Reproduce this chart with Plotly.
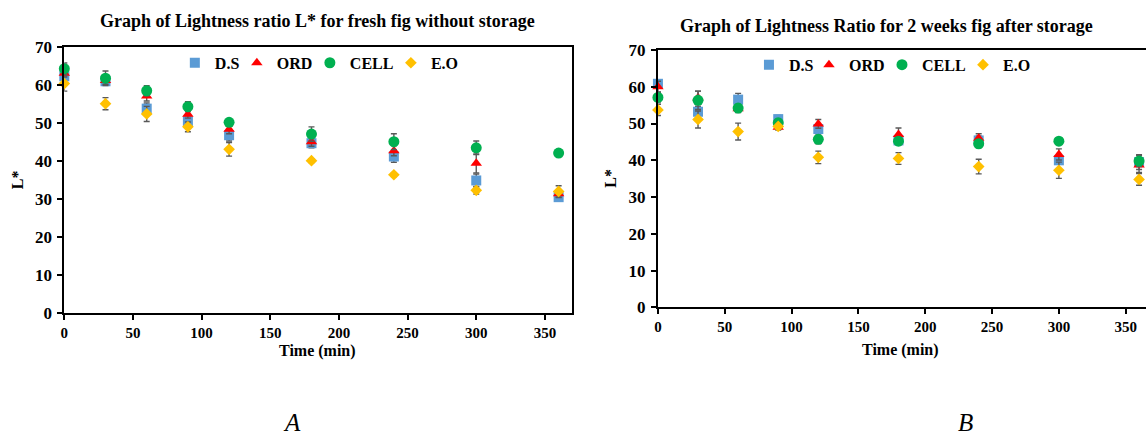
import plotly.graph_objects as go

W, H = 1146, 436

time = [0, 30, 60, 90, 120, 180, 240, 300, 360]
ticks_x = [0, 50, 100, 150, 200, 250, 300, 350]
ticks_y = [0, 10, 20, 30, 40, 50, 60, 70]

# Panel A: fresh fig without storage
a_ds = [62.2, 60.9, 53.7, 50.4, 46.7, 44.6, 41.1, 34.8, 30.4]
a_ord = [63.0, 61.1, 57.0, 52.2, 48.3, 45.0, 42.6, 39.3, 31.3]
a_cell = [64.2, 61.7, 58.4, 54.2, 50.1, 47.0, 45.0, 43.4, 42.0]
a_eo = [60.3, 55.0, 52.3, 48.9, 43.0, 40.0, 36.3, 32.2, 31.9]
a_ds_err = [1.0, 0.8, 1.5, 1.2, 1.5, 1.2, 1.5, 1.7, 0.6]
a_ord_err = [1.0, 1.0, 1.3, 1.0, 1.2, 1.2, 1.3, 2.5, 1.0]
a_cell_err = [1.5, 1.9, 1.3, 1.3, 0.6, 1.9, 2.1, 1.8, 0.5]
a_eo_err = [2.0, 1.6, 2.0, 1.3, 1.8, 0.5, 0.5, 1.0, 1.5]

# Panel B: 2 weeks fig after storage
b_ds = [60.8, 53.2, 56.5, 51.2, 48.5, 45.4, 45.4, 40.0, 39.5]
b_ord = [60.0, 57.0, 54.0, 49.0, 49.9, 47.0, 46.0, 41.6, 38.7]
b_cell = [57.1, 56.3, 54.2, 50.2, 45.7, 45.2, 44.5, 45.2, 39.8]
b_eo = [53.7, 51.1, 47.8, 49.2, 40.8, 40.5, 38.3, 37.3, 34.8]
b_ds_err = [1.0, 1.5, 1.7, 1.0, 1.0, 1.0, 1.2, 1.0, 2.0]
b_ord_err = [1.5, 1.8, 1.0, 0.8, 1.2, 1.8, 1.2, 1.5, 2.0]
b_cell_err = [1.5, 2.5, 1.0, 1.0, 1.2, 1.0, 1.0, 0.5, 1.5]
b_eo_err = [1.5, 2.3, 2.3, 0.8, 1.7, 1.6, 2.0, 2.2, 1.6]

series_names = ["D.S", "ORD", "CELL", "E.O"]
colors = ["#5B9BD5", "#FF0000", "#00B050", "#FFC000"]
symbols = ["square", "triangle-up", "circle", "diamond"]
sizes = [10, 10, 11, 9]

FONT = "Liberation Serif"

# page-to-figure pixel mapping (compensates the capture's offset/scale)
def fx(p):
    return (p - 4.2) / 0.9963

def fy(p):
    return (p - 7.7) / 0.9646

def px_x(p):
    return fx(p) / W

def px_y(p):
    return 1 - fy(p) / H

fig = go.Figure()

# legend anchor pixel positions (left edge of each single-item legend)
leg_a_x = [175, 237, 310, 391]
leg_b_x = [749, 809, 882, 963]

panels = [
    ("x", "y", 1, leg_a_x, 62, [a_ds, a_ord, a_cell, a_eo], [a_ds_err, a_ord_err, a_cell_err, a_eo_err]),
    ("x2", "y2", 5, leg_b_x, 64, [b_ds, b_ord, b_cell, b_eo], [b_ds_err, b_ord_err, b_cell_err, b_eo_err]),
]
legends = {}
for xa, ya, lg0, lxs, ly, vals, errs in panels:
    for i, (name, c, s, sz, v, e) in enumerate(zip(series_names, colors, symbols, sizes, vals, errs)):
        lname = "legend" if lg0 + i == 1 else "legend%d" % (lg0 + i)
        fig.add_trace(go.Scatter(
            x=time, y=v, mode="markers", name="<b>" + name + "</b>",
            xaxis=xa, yaxis=ya, legend=lname, cliponaxis=False,
            marker=dict(color=c, symbol=s, size=sz, line=dict(width=0)),
            error_y=dict(type="data", array=e, visible=True, color="#595959",
                         thickness=1.4, width=3),
        ))
        legends[lname] = dict(orientation="h", x=px_x(lxs[i]), y=px_y(ly),
                              xanchor="left", yanchor="middle", bgcolor="rgba(0,0,0,0)",
                              borderwidth=0,
                              font=dict(family=FONT, size=16, color="black"))

axis_common = dict(showgrid=False, zeroline=False, showline=True, linecolor="black",
                   linewidth=2, ticks="outside", ticklen=5, tickwidth=1.5,
                   tickcolor="black")
xtickfont = dict(family=FONT, size=15, color="black")
ytickfont = dict(family=FONT, size=17, color="black")
tx_text = ["<b>%d</b>" % t for t in ticks_x]
ty_text = ["<b>%d</b>" % t for t in ticks_y]

a_x0, a_x1, a_yb, a_yt = 64.5, 572, 314, 45.7
b_x0, b_yb, b_yt = 658, 308.7, 49
scale_a = (545.0 - 64.5) / 350.0
scale_b = (1125.7 - 658) / 350.0

fig.update_layout(
    width=W, height=H, margin=dict(l=0, r=0, t=0, b=0),
    paper_bgcolor="white", plot_bgcolor="white",
    font=dict(family=FONT, color="black"),
    xaxis=dict(domain=[px_x(a_x0), px_x(a_x1)], range=[0, (a_x1 - a_x0) / scale_a],
               tickvals=ticks_x, ticktext=tx_text, anchor="y", mirror=True,
               tickfont=xtickfont, **axis_common),
    yaxis=dict(domain=[px_y(a_yb), px_y(a_yt)], range=[0, 70], tickvals=ticks_y,
               ticktext=ty_text, anchor="x", mirror=True, tickfont=ytickfont,
               ticklabelstandoff=2, **axis_common),
    xaxis2=dict(domain=[px_x(b_x0), 1.0], range=[0, (W - b_x0) / scale_b],
                tickvals=ticks_x, ticktext=tx_text, anchor="y2", mirror=True,
                tickfont=xtickfont, **axis_common),
    yaxis2=dict(domain=[px_y(b_yb), px_y(b_yt)], range=[0, 70], tickvals=ticks_y,
                ticktext=ty_text, anchor="x2", mirror=False, tickfont=ytickfont,
                ticklabelstandoff=2, **axis_common),
    showlegend=True,
    **legends,
)

ann = []
def add_text(x, y, text, size, bold=True, italic=False, angle=0):
    t = text
    if bold:
        t = "<b>" + t + "</b>"
    if italic:
        t = "<i>" + t + "</i>"
    ann.append(dict(x=px_x(x), y=px_y(y), xref="paper", yref="paper", text=t,
                    showarrow=False, xanchor="center", yanchor="middle", textangle=angle,
                    font=dict(family=FONT, size=size, color="black")))

add_text(317.5, 20, "Graph of Lightness ratio L* for fresh fig without storage", 18)
add_text(887, 25, "Graph of Lightness Ratio for 2 weeks fig after storage", 18)
add_text(18.5, 180, "L*", 16, angle=-90)
add_text(611, 178, "L*", 16, angle=-90)
add_text(318, 353, "Time (min)", 16)
add_text(900.5, 352, "Time (min)", 16)
add_text(292, 425, "A", 25, bold=False, italic=True)
add_text(965, 425, "B", 25, bold=False, italic=True)
fig.update_layout(annotations=ann)

fig.write_html("out.html")
